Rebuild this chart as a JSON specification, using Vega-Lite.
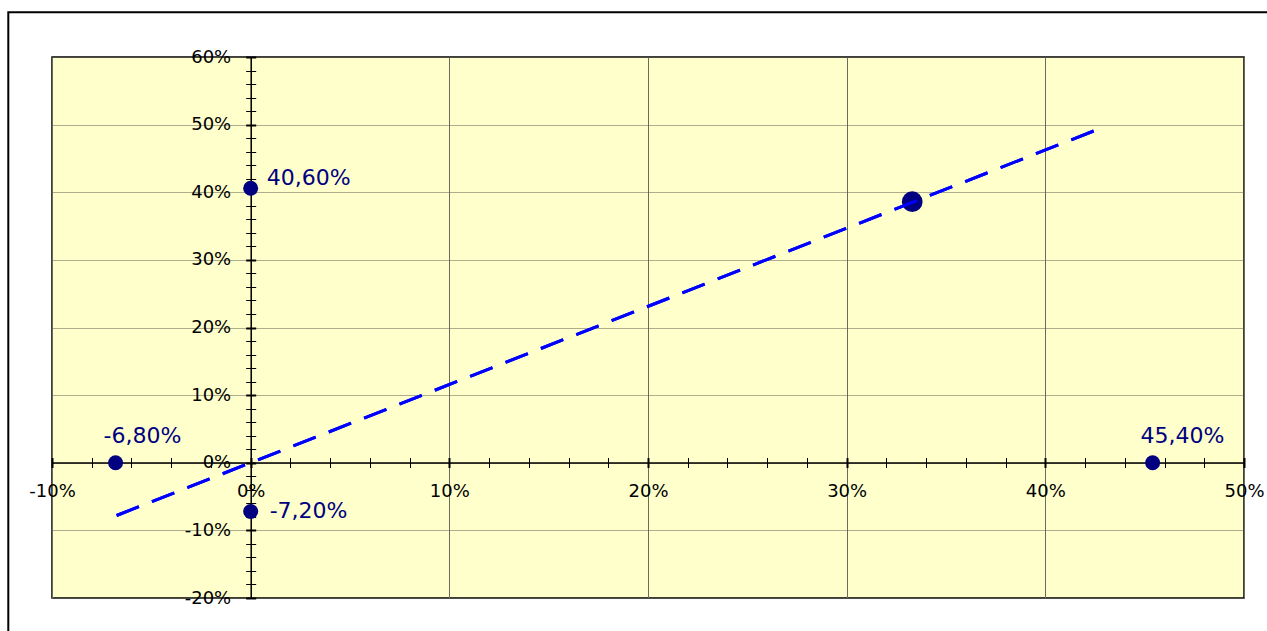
{
  "$schema": "https://vega.github.io/schema/vega-lite/v6.json",
  "width": 1192,
  "height": 541,
  "autosize": {"type": "none"},
  "padding": {"left": 52, "top": 57, "right": 23, "bottom": 33},
  "background": "#ffffff",
  "config": {
    "view": {"fill": "#FFFFCC", "stroke": "#000000", "strokeWidth": 1.5},
    "axis": {"title": null}
  },
  "datasets": {
    "assets": [
      {"x": -6.8, "y": 0, "label": "-6,80%"},
      {"x": 0, "y": 40.6, "label": "40,60%"},
      {"x": 0, "y": -7.2, "label": "-7,20%"},
      {"x": 45.4, "y": 0, "label": "45,40%"}
    ],
    "portfolio": [
      {"x": 33.3, "y": 38.6}
    ],
    "line": [
      {"x": -6.75, "y": -7.8},
      {"x": 42.9, "y": 49.6}
    ],
    "frame": [
      {"x": -12.2, "x2": 51.8, "y": 66.6, "y2": -27}
    ]
  },
  "resolve": {"axis": {"x": "independent", "y": "independent"}},
  "layer": [
    {
      "data": {"name": "frame"},
      "mark": {"type": "rect", "filled": false, "stroke": "#000000", "strokeWidth": 2, "clip": false},
      "encoding": {
        "x": {"field": "x", "type": "quantitative", "scale": {"domain": [-10, 50], "nice": false, "zero": false}, "axis": null},
        "x2": {"field": "x2"},
        "y": {"field": "y", "type": "quantitative", "scale": {"domain": [-20, 60], "nice": false, "zero": false}, "axis": null},
        "y2": {"field": "y2"}
      }
    },
    {
      "data": {"name": "line"},
      "mark": {"type": "line", "color": "#0000FF", "strokeWidth": 3, "strokeDash": [24, 14]},
      "encoding": {
        "x": {
          "field": "x", "type": "quantitative",
          "axis": {
            "orient": "top", "offset": -405.5,
            "values": [-10, -8, -6, -4, -2, 0, 2, 4, 6, 8, 10, 12, 14, 16, 18, 20, 22, 24, 26, 28, 30, 32, 34, 36, 38, 40, 42, 44, 46, 48, 50],
            "labels": false, "domain": false, "grid": false,
            "ticks": true, "tickSize": 5, "tickColor": "#000000",
            "tickWidth": {"condition": {"test": "datum.value % 10 == 0", "value": 2}, "value": 1}
          }
        },
        "y": {
          "field": "y", "type": "quantitative",
          "axis": {
            "orient": "right", "offset": -993.3,
            "values": [-20, -18, -16, -14, -12, -10, -8, -6, -4, -2, 0, 2, 4, 6, 8, 10, 12, 14, 16, 18, 20, 22, 24, 26, 28, 30, 32, 34, 36, 38, 40, 42, 44, 46, 48, 50, 52, 54, 56, 58, 60],
            "labels": false, "domain": false, "grid": false,
            "ticks": true, "tickSize": 5, "tickColor": "#000000",
            "tickWidth": {"condition": {"test": "datum.value % 10 == 0", "value": 2}, "value": 1}
          }
        }
      }
    },
    {
      "data": {"name": "assets"},
      "mark": {"type": "point", "shape": "circle", "filled": true, "size": 225, "color": "#000080", "opacity": 1},
      "encoding": {
        "x": {
          "field": "x", "type": "quantitative",
          "axis": {
            "orient": "bottom", "offset": -135.5,
            "values": [-10, -8, -6, -4, -2, 0, 2, 4, 6, 8, 10, 12, 14, 16, 18, 20, 22, 24, 26, 28, 30, 32, 34, 36, 38, 40, 42, 44, 46, 48, 50],
            "labelExpr": "datum.value % 10 == 0 ? datum.value + '%' : ''",
            "labelFont": "DejaVu Sans", "labelFontSize": 18, "labelColor": "#000000",
            "labelPadding": 15, "labelFlush": false, "labelOverlap": false, "labelBound": false,
            "domain": true, "domainColor": "#000000", "domainWidth": 1.5,
            "ticks": true, "tickSize": 5, "tickColor": "#000000",
            "tickWidth": {"condition": {"test": "datum.value % 10 == 0", "value": 2}, "value": 1},
            "grid": true, "gridColor": "#6a6a60", "gridWidth": 1,
            "gridOpacity": {"condition": {"test": "datum.value % 10 == 0", "value": 1}, "value": 0}
          }
        },
        "y": {
          "field": "y", "type": "quantitative",
          "axis": {
            "orient": "left", "offset": -198.7,
            "values": [-20, -18, -16, -14, -12, -10, -8, -6, -4, -2, 0, 2, 4, 6, 8, 10, 12, 14, 16, 18, 20, 22, 24, 26, 28, 30, 32, 34, 36, 38, 40, 42, 44, 46, 48, 50, 52, 54, 56, 58, 60],
            "labelExpr": "datum.value % 10 == 0 ? datum.value + '%' : ''",
            "labelFont": "DejaVu Sans", "labelFontSize": 18, "labelColor": "#000000",
            "labelPadding": 15, "labelFlush": false, "labelOverlap": false, "labelBound": false,
            "domain": true, "domainColor": "#000000", "domainWidth": 1.5,
            "ticks": true, "tickSize": 5, "tickColor": "#000000",
            "tickWidth": {"condition": {"test": "datum.value % 10 == 0", "value": 2}, "value": 1},
            "grid": true, "gridColor": "#5a5a50", "gridWidth": 1.2, "gridDash": [1, 1],
            "gridOpacity": {"condition": {"test": "datum.value % 10 == 0", "value": 1}, "value": 0}
          }
        }
      }
    },
    {
      "data": {"name": "portfolio"},
      "mark": {"type": "point", "shape": "circle", "filled": true, "size": 430, "color": "#000080", "opacity": 1},
      "encoding": {
        "x": {"field": "x", "type": "quantitative", "axis": null},
        "y": {"field": "y", "type": "quantitative", "axis": null}
      }
    },
    {
      "data": {"name": "line"},
      "mark": {"type": "line", "color": "#0000FF", "strokeWidth": 3, "strokeDash": [24, 14]},
      "encoding": {
        "x": {"field": "x", "type": "quantitative", "axis": null},
        "y": {"field": "y", "type": "quantitative", "axis": null}
      }
    },
    {
      "data": {"name": "assets"},
      "transform": [{"filter": "datum.y == 0"}],
      "mark": {"type": "text", "align": "left", "baseline": "middle", "dx": -12, "dy": -27, "font": "DejaVu Sans", "fontSize": 22, "color": "#000080"},
      "encoding": {
        "x": {"field": "x", "type": "quantitative", "axis": null},
        "y": {"field": "y", "type": "quantitative", "axis": null},
        "text": {"field": "label"}
      }
    },
    {
      "data": {"name": "assets"},
      "transform": [{"filter": "datum.x == 0 && datum.y > 0"}],
      "mark": {"type": "text", "align": "left", "baseline": "middle", "dx": 16, "dy": -10, "font": "DejaVu Sans", "fontSize": 22, "color": "#000080"},
      "encoding": {
        "x": {"field": "x", "type": "quantitative", "axis": null},
        "y": {"field": "y", "type": "quantitative", "axis": null},
        "text": {"field": "label"}
      }
    },
    {
      "data": {"name": "assets"},
      "transform": [{"filter": "datum.x == 0 && datum.y < 0"}],
      "mark": {"type": "text", "align": "left", "baseline": "middle", "dx": 19, "dy": 0, "font": "DejaVu Sans", "fontSize": 22, "color": "#000080"},
      "encoding": {
        "x": {"field": "x", "type": "quantitative", "axis": null},
        "y": {"field": "y", "type": "quantitative", "axis": null},
        "text": {"field": "label"}
      }
    }
  ]
}
